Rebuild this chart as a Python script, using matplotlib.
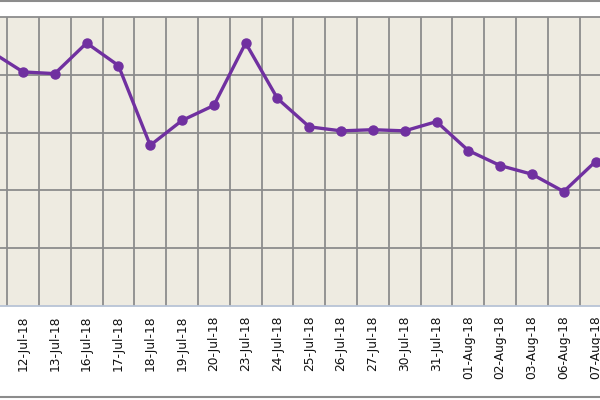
import matplotlib
matplotlib.use("Agg")
import matplotlib.pyplot as plt
from matplotlib.lines import Line2D

# dates on the category axis (first one is cut off at the left edge)
dates = ["11-Jul-18", "12-Jul-18", "13-Jul-18", "16-Jul-18", "17-Jul-18",
         "18-Jul-18", "19-Jul-18", "20-Jul-18", "23-Jul-18", "24-Jul-18",
         "25-Jul-18", "26-Jul-18", "27-Jul-18", "30-Jul-18", "31-Jul-18",
         "01-Aug-18", "02-Aug-18", "03-Aug-18", "06-Aug-18", "07-Aug-18"]
values = [4.40, 4.05, 4.02, 4.55, 4.16, 2.78, 3.21, 3.47, 4.55, 3.59,
          3.10, 3.03, 3.05, 3.03, 3.19, 2.69, 2.43, 2.28, 1.98, 2.50]

fig = plt.figure(figsize=(6, 4), dpi=100)
fig.patch.set_facecolor("white")

# plot area spans y = 17..306 px, crop cuts both sides
ax = fig.add_axes([0, 0.235, 1, 0.7225])
ax.set_facecolor("#EEEBE1")

idx = list(range(len(dates)))
ax.plot(idx, values, color="#7030A0", linewidth=2.4, marker="o",
        markersize=6.5, zorder=3, solid_joinstyle="round")

# grid between categories, like Excel
for i in range(len(dates) + 1):
    ax.axvline(i + 0.5, color="#8C8C8C", linewidth=1.3, zorder=1)
for v in range(1, 5):
    ax.axhline(v, color="#8C8C8C", linewidth=1.3, zorder=1)

ax.set_xticks(idx)
ax.set_xticklabels(dates, rotation=90, fontsize=8.8, color="#111111")
ax.tick_params(axis="x", length=0, pad=7)
ax.set_yticks([])

# limits last: set_xticks would widen them again
ax.set_xlim(0.277, 19.14)
ax.set_ylim(0, 5)

for side in ["left", "right"]:
    ax.spines[side].set_visible(False)
ax.spines["top"].set_color("#8C8C8C")
ax.spines["top"].set_linewidth(1.3)
ax.spines["bottom"].set_color("#B8C4D6")
ax.spines["bottom"].set_linewidth(1.3)

# chart area border lines
fig.add_artist(Line2D([0, 1], [0.9975, 0.9975], color="#8C8C8C", linewidth=1.5))
fig.add_artist(Line2D([0, 1], [0.008, 0.008], color="#8C8C8C", linewidth=1.5))

fig.savefig("out.png", dpi=100)
